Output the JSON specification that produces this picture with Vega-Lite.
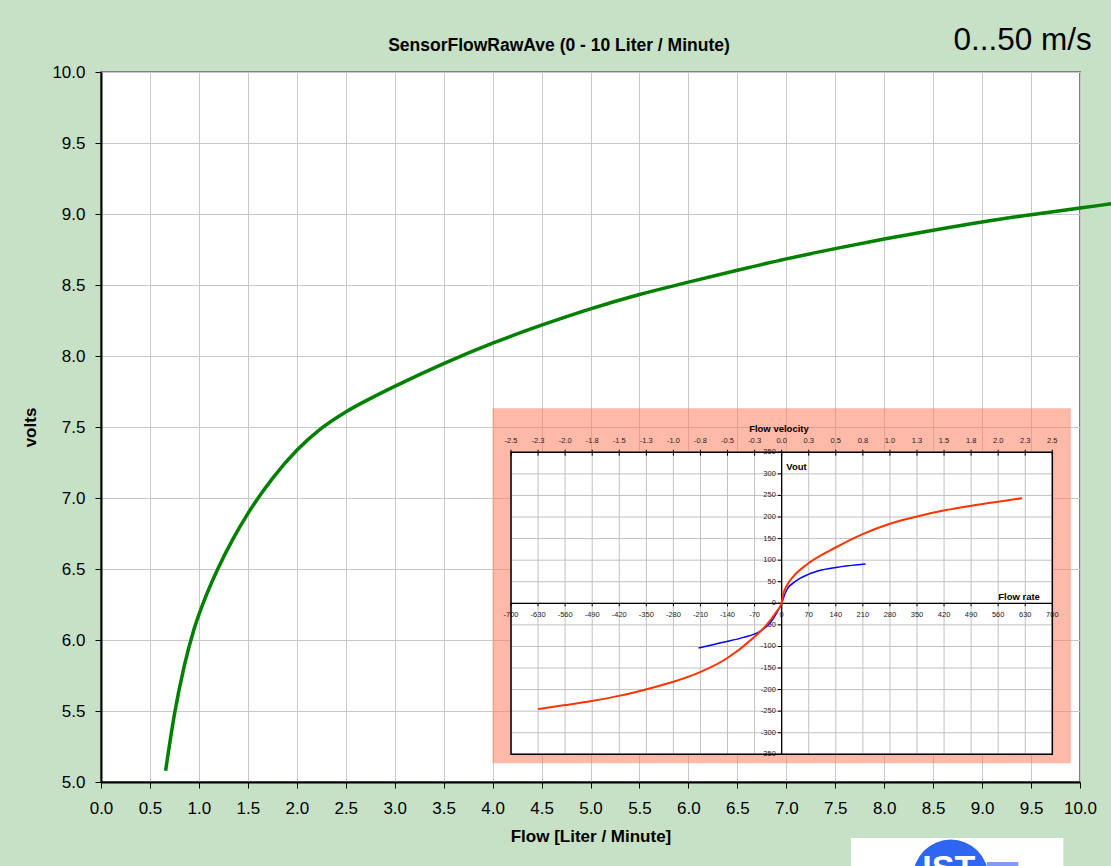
{
  "$schema": "https://vega.github.io/schema/vega-lite/v6.json",
  "width": 979,
  "height": 710,
  "autosize": {"type": "none"},
  "padding": {"left": 101, "top": 72, "right": 31, "bottom": 84},
  "background": "#c6e1c5",
  "datasets": {
    "green": [
      {"flow": 0.66, "volts": 5.08}, {"flow": 0.75, "volts": 5.476}, {"flow": 0.85, "volts": 5.816},
      {"flow": 0.95, "volts": 6.076}, {"flow": 1.05, "volts": 6.271}, {"flow": 1.2, "volts": 6.511},
      {"flow": 1.35, "volts": 6.714}, {"flow": 1.5, "volts": 6.89}, {"flow": 1.75, "volts": 7.136},
      {"flow": 2.0, "volts": 7.336}, {"flow": 2.25, "volts": 7.49}, {"flow": 2.5, "volts": 7.606},
      {"flow": 2.75, "volts": 7.7}, {"flow": 3.0, "volts": 7.786}, {"flow": 3.5, "volts": 7.946},
      {"flow": 4.0, "volts": 8.09}, {"flow": 4.5, "volts": 8.217}, {"flow": 5.0, "volts": 8.332},
      {"flow": 5.5, "volts": 8.433}, {"flow": 6.0, "volts": 8.52}, {"flow": 6.5, "volts": 8.604},
      {"flow": 7.0, "volts": 8.684}, {"flow": 7.5, "volts": 8.756}, {"flow": 8.0, "volts": 8.824},
      {"flow": 8.5, "volts": 8.886}, {"flow": 9.0, "volts": 8.944}, {"flow": 9.5, "volts": 8.995},
      {"flow": 10.0, "volts": 9.042}, {"flow": 10.32, "volts": 9.072}
    ],
    "inset": [
      {"s": "red", "q": -630, "v": -245}, {"s": "red", "q": -565, "v": -236.5}, {"s": "red", "q": -491, "v": -226.5},
      {"s": "red", "q": -418, "v": -214}, {"s": "red", "q": -349, "v": -199}, {"s": "red", "q": -280, "v": -182},
      {"s": "red", "q": -211, "v": -159.5}, {"s": "red", "q": -142, "v": -128}, {"s": "red", "q": -73, "v": -80},
      {"s": "red", "q": -39, "v": -50}, {"s": "red", "q": -13, "v": -19}, {"s": "red", "q": 0, "v": 0},
      {"s": "red", "q": 3.5, "v": 19}, {"s": "red", "q": 14, "v": 42}, {"s": "red", "q": 30, "v": 62},
      {"s": "red", "q": 65, "v": 90}, {"s": "red", "q": 142, "v": 130.5}, {"s": "red", "q": 211, "v": 161},
      {"s": "red", "q": 280, "v": 184.5}, {"s": "red", "q": 353, "v": 202}, {"s": "red", "q": 422, "v": 215.5},
      {"s": "red", "q": 491, "v": 226.3}, {"s": "red", "q": 560, "v": 235.6}, {"s": "red", "q": 622, "v": 243.5},
      {"s": "blue", "q": -215, "v": -103.6}, {"s": "blue", "q": -151, "v": -90.5}, {"s": "blue", "q": -99, "v": -79},
      {"s": "blue", "q": -56, "v": -65}, {"s": "blue", "q": -30, "v": -45.7}, {"s": "blue", "q": -13, "v": -22.5},
      {"s": "blue", "q": 0, "v": 0}, {"s": "blue", "q": 4.3, "v": 11.6}, {"s": "blue", "q": 13, "v": 30.8},
      {"s": "blue", "q": 34.5, "v": 50.1}, {"s": "blue", "q": 69, "v": 67.1}, {"s": "blue", "q": 103.5, "v": 77.2},
      {"s": "blue", "q": 155, "v": 85}, {"s": "blue", "q": 217, "v": 91}
    ],
    "qticks": [
      {"q": -700, "ql": "-700", "vel": "-2.5"}, {"q": -630, "ql": "-630", "vel": "-2.3"},
      {"q": -560, "ql": "-560", "vel": "-2.0"}, {"q": -490, "ql": "-490", "vel": "-1.8"},
      {"q": -420, "ql": "-420", "vel": "-1.5"}, {"q": -350, "ql": "-350", "vel": "-1.3"},
      {"q": -280, "ql": "-280", "vel": "-1.0"}, {"q": -210, "ql": "-210", "vel": "-0.8"},
      {"q": -140, "ql": "-140", "vel": "-0.5"}, {"q": -70, "ql": "-70", "vel": "-0.3"},
      {"q": 0, "ql": "0", "vel": "0.0"}, {"q": 70, "ql": "70", "vel": "0.3"},
      {"q": 140, "ql": "140", "vel": "0.5"}, {"q": 210, "ql": "210", "vel": "0.8"},
      {"q": 280, "ql": "280", "vel": "1.0"}, {"q": 350, "ql": "350", "vel": "1.3"},
      {"q": 420, "ql": "420", "vel": "1.5"}, {"q": 490, "ql": "490", "vel": "1.8"},
      {"q": 560, "ql": "560", "vel": "2.0"}, {"q": 630, "ql": "630", "vel": "2.3"},
      {"q": 700, "ql": "700", "vel": "2.5"}
    ],
    "vticks": [
      {"v": -350, "vl": "-350"}, {"v": -300, "vl": "-300"}, {"v": -250, "vl": "-250"},
      {"v": -200, "vl": "-200"}, {"v": -150, "vl": "-150"}, {"v": -100, "vl": "-100"},
      {"v": -50, "vl": "-50"}, {"v": 0, "vl": "0"}, {"v": 50, "vl": "50"},
      {"v": 100, "vl": "100"}, {"v": 150, "vl": "150"}, {"v": 200, "vl": "200"},
      {"v": 250, "vl": "250"}, {"v": 300, "vl": "300"}, {"v": 350, "vl": "350"}
    ],
    "one": [{}]
  },
  "layer": [
    {
      "data": {"name": "green"},
      "mark": {"type": "line", "color": "#008000", "strokeWidth": 3.5, "interpolate": "monotone", "clip": false},
      "encoding": {
        "x": {
          "field": "flow", "type": "quantitative",
          "scale": {"domain": [0, 10], "nice": false, "zero": false},
          "axis": {
            "values": [0, 0.5, 1, 1.5, 2, 2.5, 3, 3.5, 4, 4.5, 5, 5.5, 6, 6.5, 7, 7.5, 8, 8.5, 9, 9.5, 10],
            "format": ".1f", "title": "Flow [Liter / Minute]", "grid": true
          }
        },
        "y": {
          "field": "volts", "type": "quantitative",
          "scale": {"domain": [5, 10], "nice": false, "zero": false},
          "axis": {
            "values": [5, 5.5, 6, 6.5, 7, 7.5, 8, 8.5, 9, 9.5, 10],
            "format": ".1f", "title": "volts", "grid": true
          }
        }
      }
    },
    {
      "data": {"name": "one"},
      "encoding": {
        "x": {"type": "quantitative", "scale": {"domain": [0, 10], "nice": false, "zero": false}, "axis": null},
        "y": {"type": "quantitative", "scale": {"domain": [5, 10], "nice": false, "zero": false}, "axis": null}
      },
      "layer": [
        {
          "mark": {"type": "text", "text": "SensorFlowRawAve (0 - 10 Liter / Minute)", "font": "Liberation Sans", "fontSize": 17.5, "fontWeight": "bold", "align": "center", "baseline": "alphabetic", "color": "#000000", "clip": false},
          "encoding": {"x": {"datum": 4.678}, "y": {"datum": 10.146}}
        },
        {
          "mark": {"type": "text", "text": "0...50 m/s", "font": "Liberation Sans", "fontSize": 31.5, "align": "right", "baseline": "alphabetic", "color": "#000000", "clip": false},
          "encoding": {"x": {"datum": 10.12}, "y": {"datum": 10.153}}
        },
        {
          "mark": {"type": "rect", "color": "#ffffff", "clip": false},
          "encoding": {"x": {"datum": 7.66}, "x2": {"datum": 9.83}, "y": {"datum": 4.606}, "y2": {"datum": 4.2}}
        },
        {
          "mark": {"type": "rect", "color": "#7f9cf2", "clip": false},
          "encoding": {"x": {"datum": 9.05}, "x2": {"datum": 9.37}, "y": {"datum": 4.437}, "y2": {"datum": 4.25}}
        },
        {
          "mark": {"type": "point", "shape": "circle", "filled": true, "size": 5655, "color": "#2e66f2", "opacity": 1, "clip": false},
          "encoding": {"x": {"datum": 8.68}, "y": {"datum": 4.33}}
        },
        {
          "mark": {"type": "text", "text": "IST", "font": "Liberation Sans", "fontSize": 34, "fontWeight": "bold", "align": "center", "baseline": "alphabetic", "color": "#ffffff", "clip": false},
          "encoding": {"x": {"datum": 8.66}, "y": {"datum": 4.32}}
        }
      ]
    },
    {
      "encoding": {
        "x": {"type": "quantitative", "scale": {"domain": [-1760.4, 771.6], "nice": false, "zero": false}, "axis": null},
        "y": {"type": "quantitative", "scale": {"domain": [-414.2, 1231.5], "nice": false, "zero": false}, "axis": null}
      },
      "layer": [
        {
          "data": {"name": "one"},
          "mark": {"type": "rect", "color": "#ff7858", "opacity": 0.52},
          "encoding": {"x": {"datum": -748}, "x2": {"datum": 748}, "y": {"datum": -371}, "y2": {"datum": 452}}
        },
        {
          "data": {"name": "one"},
          "mark": {"type": "rect", "color": "#ffffff", "opacity": 1},
          "encoding": {"x": {"datum": -700}, "x2": {"datum": 700}, "y": {"datum": -350}, "y2": {"datum": 350}}
        },
        {
          "data": {"name": "qticks"},
          "mark": {"type": "rule", "color": "#c0c0c0", "strokeWidth": 1},
          "encoding": {"x": {"field": "q"}, "y": {"datum": -350}, "y2": {"datum": 350}}
        },
        {
          "data": {"name": "vticks"},
          "mark": {"type": "rule", "color": "#c0c0c0", "strokeWidth": 1},
          "encoding": {"y": {"field": "v"}, "x": {"datum": -700}, "x2": {"datum": 700}}
        },
        {
          "data": {"name": "one"},
          "mark": {"type": "rule", "color": "#000000", "strokeWidth": 1.3},
          "encoding": {"x": {"datum": 0}, "y": {"datum": -350}, "y2": {"datum": 350}}
        },
        {
          "data": {"name": "one"},
          "mark": {"type": "rule", "color": "#000000", "strokeWidth": 1.3},
          "encoding": {"y": {"datum": 0}, "x": {"datum": -700}, "x2": {"datum": 700}}
        },
        {
          "data": {"name": "qticks"},
          "mark": {"type": "rule", "color": "#000000", "strokeWidth": 1},
          "encoding": {"x": {"field": "q"}, "y": {"datum": 342}, "y2": {"datum": 356}}
        },
        {
          "data": {"name": "qticks"},
          "mark": {"type": "rule", "color": "#000000", "strokeWidth": 1},
          "encoding": {"x": {"field": "q"}, "y": {"datum": 0}, "y2": {"datum": -7}}
        },
        {
          "data": {"name": "vticks"},
          "mark": {"type": "rule", "color": "#000000", "strokeWidth": 1},
          "encoding": {"y": {"field": "v"}, "x": {"datum": -10}, "x2": {"datum": 0}}
        },
        {
          "data": {"name": "qticks"},
          "mark": {"type": "text", "font": "Liberation Sans", "fontSize": 7.5, "color": "#222222", "align": "center", "baseline": "middle"},
          "encoding": {"x": {"field": "q"}, "y": {"datum": 376}, "text": {"field": "vel", "type": "nominal"}}
        },
        {
          "data": {"name": "qticks"},
          "mark": {"type": "text", "font": "Liberation Sans", "fontSize": 7.5, "color": "#222222", "align": "center", "baseline": "middle"},
          "encoding": {"x": {"field": "q"}, "y": {"datum": -26}, "text": {"field": "ql", "type": "nominal"}}
        },
        {
          "data": {"name": "vticks"},
          "mark": {"type": "text", "font": "Liberation Sans", "fontSize": 7.5, "color": "#222222", "align": "right", "baseline": "middle"},
          "encoding": {"y": {"field": "v"}, "x": {"datum": -15}, "text": {"field": "vl", "type": "nominal"}}
        },
        {
          "data": {"name": "one"},
          "mark": {"type": "text", "text": "Flow velocity", "font": "Liberation Sans", "fontSize": 9.5, "fontWeight": "bold", "color": "#000000", "align": "center", "baseline": "middle"},
          "encoding": {"x": {"datum": -7}, "y": {"datum": 404}}
        },
        {
          "data": {"name": "one"},
          "mark": {"type": "text", "text": "Vout", "font": "Liberation Sans", "fontSize": 9.5, "fontWeight": "bold", "color": "#000000", "align": "left", "baseline": "middle"},
          "encoding": {"x": {"datum": 12}, "y": {"datum": 316}}
        },
        {
          "data": {"name": "one"},
          "mark": {"type": "text", "text": "Flow rate", "font": "Liberation Sans", "fontSize": 9.5, "fontWeight": "bold", "color": "#000000", "align": "left", "baseline": "middle"},
          "encoding": {"x": {"datum": 560}, "y": {"datum": 15}}
        },
        {
          "data": {"name": "inset"},
          "transform": [{"filter": "datum.s === 'blue'"}],
          "mark": {"type": "line", "color": "#0000ff", "strokeWidth": 1.5, "interpolate": "monotone"},
          "encoding": {"x": {"field": "q"}, "y": {"field": "v"}}
        },
        {
          "data": {"name": "inset"},
          "transform": [{"filter": "datum.s === 'red'"}],
          "mark": {"type": "line", "color": "#ff3300", "strokeWidth": 2, "interpolate": "monotone"},
          "encoding": {"x": {"field": "q"}, "y": {"field": "v"}}
        },
        {
          "data": {"name": "one"},
          "mark": {"type": "rect", "fill": "transparent", "stroke": "#000000", "strokeWidth": 1.5},
          "encoding": {"x": {"datum": -700}, "x2": {"datum": 700}, "y": {"datum": -350}, "y2": {"datum": 350}}
        }
      ]
    }
  ],
  "resolve": {"scale": {"x": "independent", "y": "independent"}},
  "config": {
    "view": {"fill": "#ffffff", "stroke": "#808080", "strokeWidth": 2},
    "axis": {
      "labelFont": "Liberation Sans",
      "labelFontSize": 17,
      "labelColor": "#000000",
      "labelOverlap": false,
      "labelFlush": false,
      "tickColor": "#000000",
      "tickSize": 6,
      "tickWidth": 1,
      "domainColor": "#000000",
      "domainWidth": 2,
      "gridColor": "#c8c8c8",
      "gridWidth": 1,
      "titleFont": "Liberation Sans",
      "titleFontSize": 17,
      "titleFontWeight": "bold",
      "titleColor": "#000000"
    },
    "axisX": {"labelPadding": 12, "titlePadding": 12},
    "axisY": {"labelPadding": 10, "titlePadding": 12}
  }
}
